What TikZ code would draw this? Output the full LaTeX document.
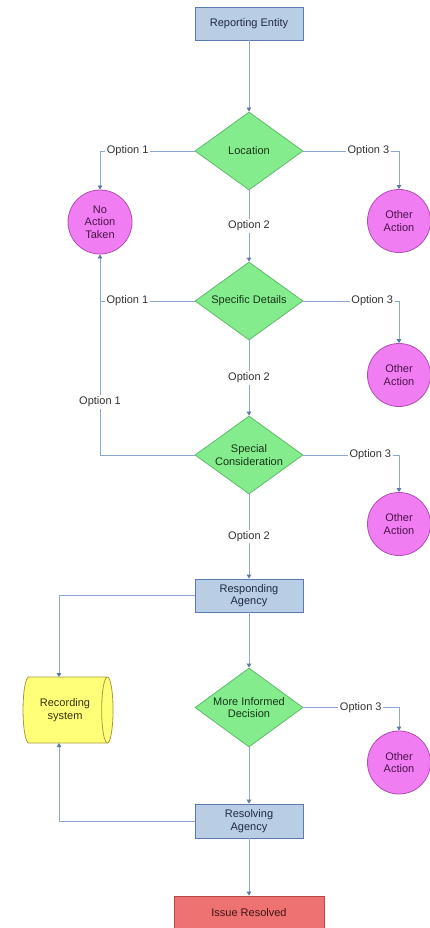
\documentclass[tikz,border=0pt]{standalone}
\usepackage{fontspec}
\setmainfont{Liberation Sans}
\usetikzlibrary{shapes.geometric,arrows.meta}
\definecolor{boxfill}{HTML}{B9CDE5}
\definecolor{boxline}{HTML}{5B7BAE}
\definecolor{boxtext}{HTML}{1E2A40}
\definecolor{dfill}{HTML}{85EC8E}
\definecolor{dline}{HTML}{5DBB66}
\definecolor{dtext}{HTML}{163516}
\definecolor{cfill}{HTML}{F07EF2}
\definecolor{cline}{HTML}{B24CB2}
\definecolor{ctext}{HTML}{4A124A}
\definecolor{yfill}{HTML}{FFFF78}
\definecolor{yline}{HTML}{A89A3A}
\definecolor{ytext}{HTML}{34340C}
\definecolor{rfill}{HTML}{EE7272}
\definecolor{rline}{HTML}{B44848}
\definecolor{rtext}{HTML}{401414}
\definecolor{connc}{HTML}{8DA8D4}
\definecolor{tipc}{HTML}{5C78A8}
\definecolor{ltext}{HTML}{333333}
\tikzset{
  every node/.style={font=\fontsize{11}{12.5}\selectfont},
  box/.style={rectangle, draw=boxline, fill=boxfill, text=boxtext, minimum width=108pt, minimum height=33pt, inner sep=1pt, align=center, line width=0.8pt},
  endbox/.style={rectangle, draw=rline, fill=rfill, text=rtext, minimum width=150pt, minimum height=33pt, inner sep=1pt, align=center, line width=0.8pt},
  decision/.style={diamond, draw=dline, fill=dfill, text=dtext, minimum width=108pt, minimum height=78pt, inner sep=0pt, shape aspect=1.385, align=center, line width=0.8pt},
  endcircle/.style={circle, draw=cline, fill=cfill, text=ctext, minimum size=63pt, inner sep=0pt, align=center, line width=0.8pt},
  store/.style={cylinder, draw=yline, fill=yfill, text=ytext, minimum width=66pt, minimum height=90pt, shape aspect=0.5, inner sep=0pt, align=center, line width=0.8pt},
  conn/.style={draw=connc, line width=0.8pt},
  arr/.style={conn, -{Triangle[length=4pt,width=4.5pt,color=tipc]}},
  lbl/.style={fill=white, text=ltext, inner sep=1.5pt}
}
\begin{document}
\begin{tikzpicture}[x=1pt,y=-1pt]
\fill[white] (0,0) rectangle (430,928);
\useasboundingbox (0,0) rectangle (430,928);

\node[box] (rep) at (249,23.5) {Reporting Entity};
\node[decision] (loc) at (249,151) {Location};
\node[decision] (spec) at (249,301) {Specific Details};
\node[decision] (cons) at (249,455) {Special\\Consideration};
\node[box] (resp) at (249,595.5) {Responding\\Agency};
\node[decision, minimum height=79pt] (more) at (249,707.5) {More Informed\\Decision};
\node[box, minimum height=34pt] (resv) at (249,821) {Resolving\\Agency};
\node[endbox] (issue) at (249,912.5) {Issue Resolved};

\node[endcircle, minimum size=64pt] (noact) at (100,222) {No\\Action\\Taken};
\node[endcircle] (oa1) at (399,221) {Other\\Action};
\node[endcircle] (oa2) at (399,375) {Other\\Action};
\node[endcircle] (oa3) at (399,524) {Other\\Action};
\node[endcircle] (oa4) at (399,762.5) {Other\\Action};

\node[store] (rec) at (65,710) {Recording\\system};
\coordinate (rectop) at (59,677);
\coordinate (recbot) at (59,743);
\coordinate (j1) at (noact.south |- spec.west);

\draw[arr] (rep) -- (loc);
\draw[arr] (loc.west) -| node[lbl, pos=0.354] {Option 1} (noact.north);
\draw[arr] (loc.east) -| node[lbl, pos=0.34] {Option 3} (oa1.north);
\draw[arr] (loc.south) -- node[lbl] {Option 2} (spec.north);

\draw[conn] (spec.west) -- node[lbl, pos=0.71] {Option 1} (j1);
\draw[arr] (spec.east) -| node[lbl, pos=0.36] {Option 3} (oa2.north);
\draw[arr] (spec.south) -- node[lbl] {Option 2} (cons.north);

\draw[arr] (cons.west) -| node[lbl, pos=0.632] {Option 1} (noact.south);
\draw[arr] (cons.east) -| node[lbl, pos=0.35] {Option 3} (oa3.north);
\draw[arr] (cons.south) -- node[lbl] {Option 2} (resp.north);

\draw[arr] (resp.west) -| (rectop);
\draw[arr] (resp.south) -- (more.north);
\draw[arr] (more.east) -| node[lbl, pos=0.3] {Option 3} (oa4.north);
\draw[arr] (more.south) -- (resv.north);
\draw[arr] (resv.west) -| (recbot);
\draw[arr] (resv.south) -- (issue.north);
\end{tikzpicture}
\end{document}
